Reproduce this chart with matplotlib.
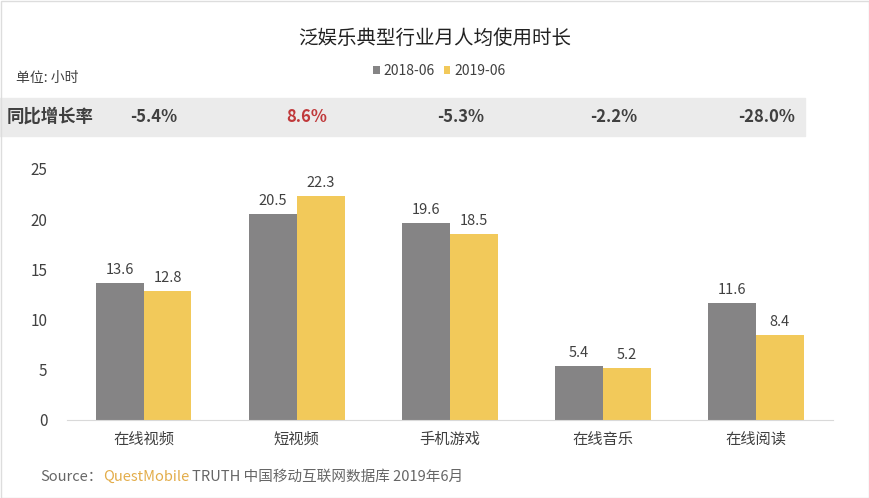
import matplotlib
import matplotlib.pyplot as plt
import numpy as np
from matplotlib.patches import Rectangle

matplotlib.use("Agg")
plt.rcParams["font.family"] = ["Noto Sans CJK SC", "DejaVu Sans"]

categories = ["在线视频", "短视频", "手机游戏", "在线音乐", "在线阅读"]
series_names = ["2018-06", "2019-06"]
hours_2018 = [13.6, 20.5, 19.6, 5.4, 11.6]
hours_2019 = [12.8, 22.3, 18.5, 5.2, 8.4]
growth = ["-5.4%", "8.6%", "-5.3%", "-2.2%", "-28.0%"]

GRAY = "#858485"
YELLOW = "#F2C95A"
TEXT = "#404040"

fig = plt.figure(figsize=(8.7, 4.98), dpi=100)
ax = fig.add_axes([0.077, 0.157, 0.880, 0.504])

x = np.arange(len(categories))
w = 0.313
b1 = ax.bar(x - w / 2, hours_2018, w, color=GRAY, label=series_names[0], zorder=2)
b2 = ax.bar(x + w / 2, hours_2019, w, color=YELLOW, label=series_names[1], zorder=2)
for bars in (b1, b2):
    for rect in bars:
        ax.text(rect.get_x() + rect.get_width() / 2, rect.get_height() + 0.6,
                f"{rect.get_height():.1f}", ha="center", va="bottom",
                fontsize=10.5, color=TEXT)

ax.set_xlim(-0.5, len(categories) - 0.5)
ax.set_ylim(0, 25)
ax.set_yticks(range(0, 26, 5))
ax.set_xticks(x)
ax.set_xticklabels(categories, fontsize=11, color=TEXT)
ax.tick_params(axis="both", length=0, labelsize=11, labelcolor=TEXT)
ax.tick_params(axis="x", pad=8)
ax.tick_params(axis="y", pad=14)
for s in ("top", "right", "left"):
    ax.spines[s].set_visible(False)
ax.spines["bottom"].set_color("#d9d9d9")
ax.patch.set_alpha(0)

# growth band
fig.patches.append(Rectangle((0.0, 1 - 136 / 498), 805 / 870, 38 / 498,
                             transform=fig.transFigure, color="#ebebeb", zorder=0))
fig.text(0.008, 1 - 117 / 498, "同比增长率", fontsize=12.5, fontweight="bold",
         color=TEXT, va="center", ha="left")
for i, g in enumerate(growth):
    fx = ax.transData.transform((i, 0))[0] / fig.bbox.width
    fig.text(fx + 0.012, 1 - 117 / 498, g, fontsize=12, fontweight="bold",
             color="#c0393b" if not g.startswith("-") else TEXT,
             ha="center", va="center")

fig.text(0.5, 1 - 38 / 498, "泛娱乐典型行业月人均使用时长", fontsize=14,
         ha="center", va="center", color="#222222")
fig.text(0.018, 1 - 78 / 498, "单位: 小时", fontsize=10, color=TEXT,
         va="center", ha="left")
fig.legend(loc="center", bbox_to_anchor=(0.505, 1 - 71 / 498), ncol=2,
           frameon=False, fontsize=10, handlelength=0.5, handleheight=0.5,
           handletextpad=0.3, columnspacing=0.6)
for t in fig.legends[0].get_texts():
    t.set_color(TEXT)

src = fig.text(0.046, 1 - 477 / 498, "Source：", fontsize=10.5, color="#666666",
               va="center", ha="left")
qm = fig.text(0.118, 1 - 477 / 498, "QuestMobile", fontsize=10.5, color="#e3ad4a",
              va="center", ha="left")
fig.canvas.draw()
qm_end = qm.get_window_extent().x1 / fig.bbox.width
fig.text(qm_end + 0.003, 1 - 477 / 498, "TRUTH 中国移动互联网数据库 2019年6月",
         fontsize=10.5, color="#666666", va="center", ha="left")

fig.patches.append(Rectangle((0.001, 0.001), 0.998, 0.997, transform=fig.transFigure,
                             fill=False, edgecolor="#dddddd", linewidth=1))

fig.savefig("out.png", dpi=100)
